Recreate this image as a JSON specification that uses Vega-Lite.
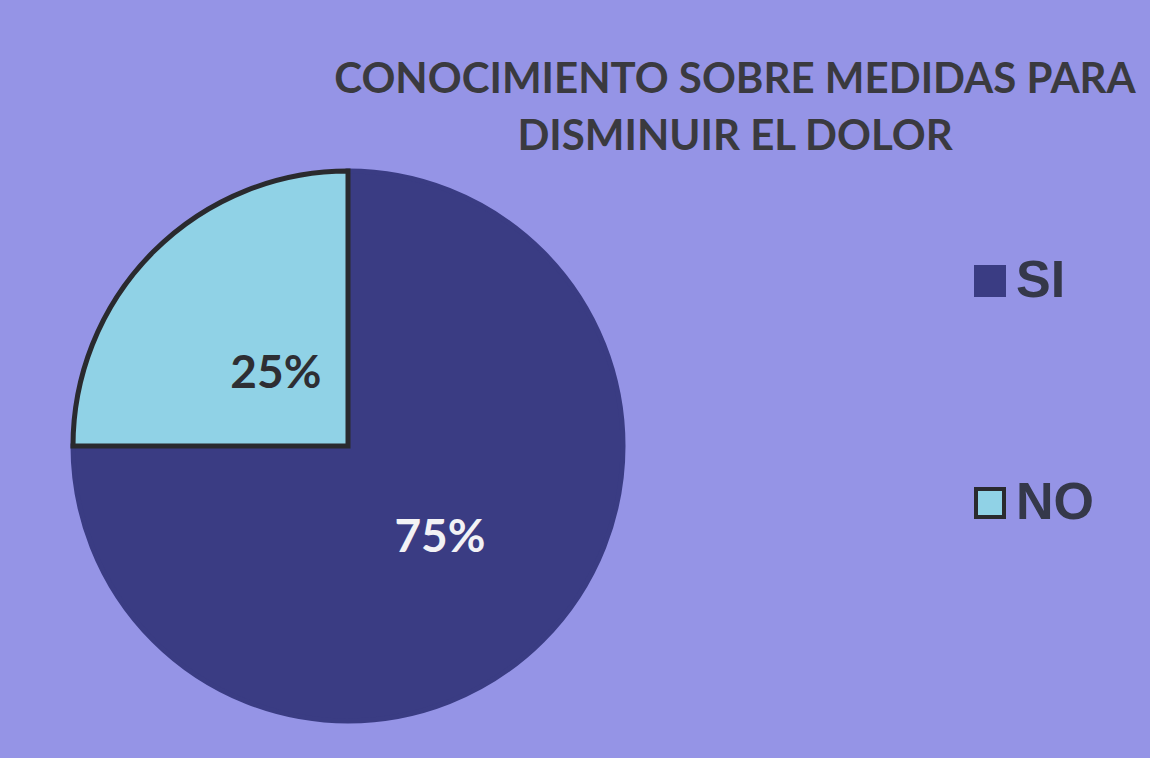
{
  "$schema": "https://vega.github.io/schema/vega-lite/v6.json",
  "width": 550,
  "height": 550,
  "autosize": "none",
  "padding": {"left": 73, "top": 171, "right": 527, "bottom": 37},
  "background": "#9594e6",
  "title": {
    "text": ["CONOCIMIENTO SOBRE MEDIDAS PARA", "DISMINUIR EL DOLOR"],
    "anchor": "middle",
    "dx": 387,
    "offset": 2,
    "font": "Lato",
    "fontSize": 42,
    "fontWeight": "bold",
    "color": "#3a3a3f",
    "lineHeight": 57
  },
  "data": {
    "values": [
      {"respuesta": "SI", "porcentaje": 75, "etiqueta": "75%"},
      {"respuesta": "NO", "porcentaje": 25, "etiqueta": "25%"}
    ]
  },
  "encoding": {
    "theta": {"field": "porcentaje", "type": "quantitative", "stack": true},
    "order": {"field": "porcentaje", "type": "quantitative", "sort": "descending"}
  },
  "layer": [
    {
      "mark": {"type": "arc", "strokeWidth": 5, "strokeJoin": "miter"},
      "encoding": {
        "color": {
          "field": "respuesta",
          "type": "nominal",
          "sort": ["SI", "NO"],
          "scale": {"domain": ["SI", "NO"], "range": ["#3a3c83", "#90d2e6"]},
          "legend": {
            "title": null,
            "orient": "none",
            "legendX": 891,
            "legendY": 84,
            "symbolType": "square",
            "symbolSize": 784,
            "symbolStrokeWidth": 4,
            "labelFont": "Liberation Sans",
            "labelFontSize": 52,
            "labelFontWeight": "bold",
            "labelColor": "#35384a",
            "labelOffset": 0,
            "rowPadding": 170,
            "labelLimit": 300
          }
        },
        "stroke": {
          "field": "respuesta",
          "type": "nominal",
          "sort": ["SI", "NO"],
          "scale": {"domain": ["SI", "NO"], "range": ["#3a3c83", "#2a2a2e"]},
          "legend": {
            "title": null,
            "orient": "none",
            "legendX": 891,
            "legendY": 84,
            "symbolType": "square",
            "symbolSize": 784,
            "symbolStrokeWidth": 4,
            "labelFont": "Liberation Sans",
            "labelFontSize": 52,
            "labelFontWeight": "bold",
            "labelColor": "#35384a",
            "labelOffset": 0,
            "rowPadding": 170,
            "labelLimit": 300
          }
        }
      }
    },
    {
      "mark": {
        "type": "text",
        "font": "Lato",
        "fontSize": 46,
        "fontWeight": "bold",
        "radius": {"expr": "datum.respuesta === 'SI' ? 130 : 102"}
      },
      "encoding": {
        "text": {"field": "etiqueta", "type": "nominal"},
        "color": {
          "condition": {"test": "datum.respuesta === 'SI'", "value": "#f2f2f5"},
          "value": "#2e2e33"
        }
      }
    }
  ],
  "config": {
    "view": {"stroke": null}
  }
}
